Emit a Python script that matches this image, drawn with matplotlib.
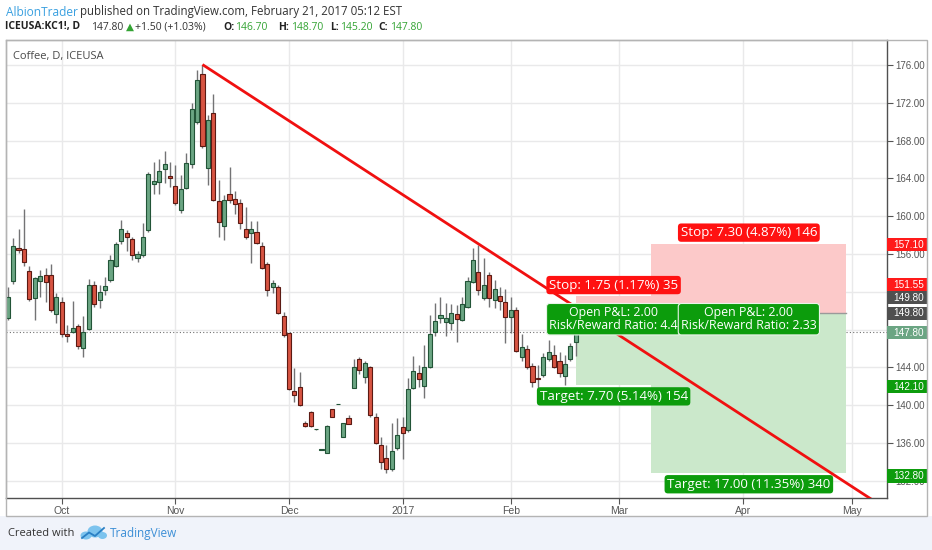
import matplotlib
matplotlib.use('Agg')
import matplotlib.pyplot as plt
import matplotlib.transforms as mtransforms
from matplotlib.patches import Rectangle, Ellipse
import numpy as np

# ---------------- data ----------------
opens = [149.2, 153.1, 156.6, 156.5, 154.2, 151.35, 153.1, 153.8, 153.8, 149.6,
         150.95, 147.5, 147.8, 148.4, 146.1, 148.1, 152.7, 151.15, 152.2, 153.25,
         154.75, 157.4, 158.25, 157.6, 155.55, 155.9, 158.55, 163.4, 163.6, 165.0,
         164.25, 163.2, 160.65, 162.95, 165.5, 170.0, 175.0, 165.15, 170.9, 161.65,
         158.95, 162.3, 161.8, 161.35, 158.7, 158.2, 158.3, 156.8, 154.9, 152.55,
         152.55, 149.45, 147.6, 141.5, 141.95, 138.15, 139.25, 137.45, 135.3, 134.9,
         139.55, 140.1, 136.6, 138.65, 141.85, 144.85, 142.95, 144.0, 138.8, 135.8,
         134.4, 133.2, 135.5, 137.65, 137.4, 141.85, 143.4, 142.05, 144.05, 147.75,
         149.2, 148.85, 148.65, 149.6, 149.05, 150.4, 153.05, 154.15, 151.35, 153.8,
         151.15, 151.55, 150.9, 149.35, 150.05, 145.05, 145.9, 144.15, 142.9, 143.2,
         144.85, 145.35, 144.65, 143.1, 144.9, 146.7]
highs = [152.5, 157.7, 158.7, 160.8, 154.7, 153.6, 154.3, 154.5, 154.9, 151.85,
         151.5, 148.5, 151.05, 148.6, 149.4, 153.35, 153.15, 152.7, 153.6, 155.9,
         157.3, 159.6, 158.55, 157.75, 156.3, 159.25, 164.7, 165.7, 166.1, 166.9,
         165.75, 165.4, 164.35, 166.65, 172.0, 175.45, 176.05, 170.7, 172.9, 163.85,
         162.25, 165.25, 162.65, 161.8, 160.95, 159.5, 159.5, 157.3, 155.2, 153.3,
         152.7, 149.9, 147.65, 143.9, 143.55, 138.3, 139.4, 137.5, 135.35, 137.9,
         139.6, 140.15, 138.15, 138.95, 144.85, 145.15, 144.7, 144.15, 139.15, 136.65,
         135.8, 138.15, 138.6, 138.8, 142.85, 145.2, 144.25, 146.35, 149.55, 150.8,
         151.5, 150.85, 150.7, 150.6, 151.5, 153.6, 156.6, 156.95, 155.55, 154.15,
         153.3, 152.5, 152.35, 151.5, 150.4, 147.5, 146.35, 144.45, 144.3, 145.5,
         146.85, 146.35, 145.65, 145.3, 146.55, 148.7]
lows = [149.0, 152.8, 156.1, 154.7, 151.0, 149.0, 151.4, 150.95, 149.9, 148.7,
        147.25, 146.7, 147.6, 146.0, 145.1, 147.95, 150.4, 150.3, 151.65, 153.05,
        154.6, 157.05, 156.35, 155.35, 155.2, 155.7, 158.35, 162.3, 162.3, 163.5,
        163.1, 161.2, 160.3, 162.9, 165.1, 169.8, 167.25, 163.3, 161.65, 157.85,
        157.5, 161.35, 160.2, 158.65, 157.55, 155.0, 157.05, 154.4, 151.55, 151.9,
        149.65, 147.25, 141.6, 140.35, 139.9, 137.7, 137.7, 137.4, 135.3, 134.9,
        138.7, 140.1, 136.6, 138.0, 141.8, 143.25, 142.3, 138.8, 135.9, 133.3,
        132.8, 133.05, 135.25, 134.3, 137.2, 141.7, 141.95, 140.75, 143.95, 147.3,
        148.65, 147.3, 147.95, 146.7, 148.95, 150.3, 152.9, 151.65, 151.1, 150.4,
        150.25, 150.05, 146.55, 147.6, 145.65, 144.7, 143.8, 141.95, 141.6, 143.0,
        144.7, 143.95, 143.0, 142.1, 144.7, 145.2]
closes = [151.4, 156.8, 156.4, 155.15, 151.25, 153.5, 153.65, 153.0, 150.1, 151.45,
          147.5, 147.35, 148.15, 146.25, 147.8, 152.7, 150.7, 152.0, 152.6, 155.35,
          157.05, 158.7, 157.75, 155.85, 156.05, 157.8, 164.45, 163.7, 164.8, 165.5,
          164.05, 161.45, 162.9, 165.65, 171.3, 174.4, 167.45, 170.2, 161.7, 159.35,
          161.7, 161.7, 161.25, 159.25, 157.75, 158.6, 157.2, 154.55, 152.2, 152.95,
          149.8, 147.45, 141.7, 141.1, 140.0, 137.75, 137.75, 137.5, 135.35, 137.85,
          138.7, 140.15, 138.15, 138.0, 144.05, 143.7, 144.45, 138.95, 135.95, 134.0,
          133.2, 135.2, 136.9, 137.1, 141.7, 143.65, 142.75, 144.0, 147.55, 148.95,
          149.55, 149.25, 149.8, 149.1, 150.7, 153.15, 155.35, 152.2, 152.7, 151.3,
          152.35, 151.05, 149.35, 150.05, 145.75, 146.15, 144.0, 142.45, 142.75, 145.1,
          145.6, 144.05, 143.45, 144.35, 146.3, 147.8]

# month starts as trading-bar index (bar 0 = 2016-09-19)
month_ticks = [10, 31, 52, 73, 93, 113, 136, 156]
month_labels = ['Oct', 'Nov', 'Dec', '2017', 'Feb', 'Mar', 'Apr', 'May']
price_ticks = list(range(132, 177, 4))
hidden_ticks = [148, 152]   # fully covered by price tags in the reference

last_price = 147.80
trend_x = [36, 160]
trend_y = [176.05, 129.92]

# long position tools
tool_start = [105, 119]
tool_end = [119, 155]
tool_entry = [149.80, 149.80]
tool_stop = [151.55, 157.10]
tool_target = [142.10, 132.80]
stop_texts = ['Stop: 1.75 (1.17%) 35', 'Stop: 7.30 (4.87%) 146']
pnl_texts = ['Open P&L: 2.00\nRisk/Reward Ratio: 4.4', 'Open P&L: 2.00\nRisk/Reward Ratio: 2.33']
target_texts = ['Target: 7.70 (5.14%) 154', 'Target: 17.00 (11.35%) 340']

# right-scale price tags
tag_values = [157.10, 151.55, 149.80, 149.80, 147.80, 142.10, 132.80]
tag_pos = [157.0, 152.77, 151.38, 149.73, 147.69, 141.96, 132.53]
tag_colors = ['#ff1a1a', '#ff1a1a', '#4f4f4f', '#4f4f4f', '#6ba583', '#0d9c0d', '#0d9c0d']

# ---------------- figure ----------------
W, H = 932, 550
plt.rcParams['font.family'] = ['Open Sans', 'DejaVu Sans']
fig = plt.figure(figsize=(W / 100, H / 100), dpi=100)
fig.patch.set_facecolor('white')
pix = mtransforms.Affine2D().scale(1 / W, -1 / H).translate(0, 1) + fig.transFigure

# footer background and frame
fig.patches.append(Rectangle((0, 516), W, H - 516, transform=pix, fc='#f0f3fa', ec='none', zorder=0))
fig.patches.append(Rectangle((6, 39.5), 920.5, 476.5, transform=pix, fc='none', ec='#b4b4b4', lw=1, zorder=1))

L, R, T, B = 6, 886.7, 40, 498
ax = fig.add_axes([L / W, 1 - B / H, (R - L) / W, (B - T) / H])
ax.set_facecolor('white')
ax.set_xlim(-0.314, 162.48)
ax.set_ylim(130.18, 178.65)

ax.set_axisbelow(True)
ax.grid(True, color='#e9e9ea', lw=1)
ax.yaxis.tick_right()
ax.set_yticks(price_ticks)
ax.set_yticklabels(['' if v in hidden_ticks else f'{v:.2f}' for v in price_ticks])
ax.set_xticks(month_ticks)
ax.set_xticklabels(month_labels)
ax.tick_params(axis='y', direction='out', length=4, width=0.8, color='#555555',
               labelcolor='#555555', labelsize=7, pad=2.5, labelfontfamily='Liberation Sans')
ax.tick_params(axis='x', direction='out', length=4, width=0.8, color='#555555',
               labelcolor='#555555', labelsize=7.5, pad=2, labelfontfamily='Liberation Sans')
for side in ['right', 'bottom']:
    ax.spines[side].set_color('#505050')
    ax.spines[side].set_linewidth(1)
for side in ['left', 'top']:
    ax.spines[side].set_color('#b4b4b4')
    ax.spines[side].set_linewidth(1)

# last price dotted line
ax.axhline(last_price, color='#707070', lw=0.8, ls=(0, (1, 2)), zorder=2)

# position tools: zones
for s, e, en, st, tg in zip(tool_start, tool_end, tool_entry, tool_stop, tool_target):
    ax.add_patch(Rectangle((s, en), e - s, st - en, fc='#fcc9c9', ec='none', zorder=2.2))
    ax.add_patch(Rectangle((s, tg), e - s, en - tg, fc='#cbe8cb', ec='none', zorder=2.2))
    ax.plot([s, e], [en, en], color='#9a9a9a', lw=1, zorder=2.3)

# candles
x = np.arange(len(opens))
o = np.array(opens); h = np.array(highs); l = np.array(lows); c = np.array(closes)
up = c >= o
bottom = np.minimum(o, c)
height = np.maximum(np.abs(c - o), 0.07)
ax.vlines(x, l, h, color='#737375', lw=1, zorder=3)
ax.bar(x[up], height[up], bottom=bottom[up], width=0.76, color='#6ba583',
       edgecolor='#225437', linewidth=0.8, zorder=4)
ax.bar(x[~up], height[~up], bottom=bottom[~up], width=0.76, color='#d75442',
       edgecolor='#5b1a13', linewidth=0.8, zorder=4)

# trend line
ax.plot(trend_x, trend_y, color='#f01010', lw=2, zorder=6, solid_capstyle='butt')

# tool labels
px_per_unit = (B - T) / (178.65 - 130.18)
for s, e, en, st, tg, t1, t2, t3 in zip(tool_start, tool_end, tool_entry, tool_stop,
                                        tool_target, stop_texts, pnl_texts, target_texts):
    xc = (s + e) / 2
    ax.text(xc, st + 4.5 / px_per_unit, t1, ha='center', va='bottom', color='white',
            fontsize=9.6, zorder=10,
            bbox=dict(boxstyle='round,pad=0.2,rounding_size=0.25', ec='none', fc='#ff1111'))
    ax.text(xc, en - 6.6 / px_per_unit, t2, ha='center', va='center', color='white',
            fontsize=8.9, zorder=10, linespacing=1.0, multialignment='center',
            bbox=dict(boxstyle='round,pad=0.22,rounding_size=0.25', ec='#e8f4e8', lw=0.8, fc='#0c9c0c'))
    ax.text(xc, tg - 4.5 / px_per_unit, t3, ha='center', va='top', color='white',
            fontsize=9.6, zorder=10,
            bbox=dict(boxstyle='round,pad=0.2,rounding_size=0.25', ec='none', fc='#0c9c0c'))

# right-scale price tags
trans = mtransforms.blended_transform_factory(ax.transAxes, ax.transData)
wfrac = 40 / (R - L)
hh = 13.5 / px_per_unit
for v, p, col in zip(tag_values, tag_pos, tag_colors):
    ax.add_patch(Rectangle((1.0, p - hh / 2), wfrac, hh, transform=trans, fc=col,
                           ec='none', clip_on=False, zorder=11))
    ax.text(1.0 + 6.5 / (R - L), p, f'{v:.2f}', transform=trans, color='white',
            fontsize=7.2, va='center', ha='left', zorder=12, clip_on=False,
            fontfamily='Liberation Sans')

# chart title
fig.text(13, 56, 'Coffee, D, ICEUSA', transform=pix, fontsize=8, color='#4a4a4a', va='center')

# header
fig.text(6, 12, 'AlbionTrader', transform=pix, fontsize=8.6, color='#3aa0e0', va='center')
fig.text(79.5, 12, 'published on TradingView.com, February 21, 2017 05:12 EST', transform=pix,
         fontsize=8.3, color='#333333', va='center')
g = '#33a333'
hdr = [(5, 'ICEUSA:KC1!, D', '#222222', 'bold'),
       (91, '147.80', '#333333', 'normal'),
       (125.5, '\u25b2', g, 'normal'),
       (135, '+1.50 (+1.03%)', '#333333', 'normal'),
       (223, 'O:', '#222222', 'bold'),
       (235, '146.70', g, 'normal'),
       (278, 'H:', '#222222', 'bold'),
       (291, '148.70', g, 'normal'),
       (330, 'L:', '#222222', 'bold'),
       (340, '145.20', g, 'normal'),
       (378, 'C:', '#222222', 'bold'),
       (390, '147.80', g, 'normal')]
for hx, s, col, wt in hdr:
    fig.text(hx, 27, s, transform=pix, fontsize=7.5, color=col, fontweight=wt, va='center')

# footer
fig.text(8, 533, 'Created with', transform=pix, fontsize=8, color='#333333', va='center')
for (cx, cy, rw, rh) in [(86, 535.5, 11, 8), (95, 531.5, 15, 12), (102.5, 535.5, 9, 7)]:
    fig.patches.append(Ellipse((cx, cy), rw, rh, transform=pix, fc='#7cc3ee', ec='none', zorder=2))
fig.lines.append(plt.Line2D([82, 89, 95, 104], [538, 532.5, 536, 528], transform=pix,
                            color='#2a7fc4', lw=1.3, zorder=3))
fig.text(110, 533, 'TradingView', transform=pix, fontsize=8.5, color='#3d8fd6', va='center')

fig.savefig('out.png', dpi=100, facecolor=fig.get_facecolor())
